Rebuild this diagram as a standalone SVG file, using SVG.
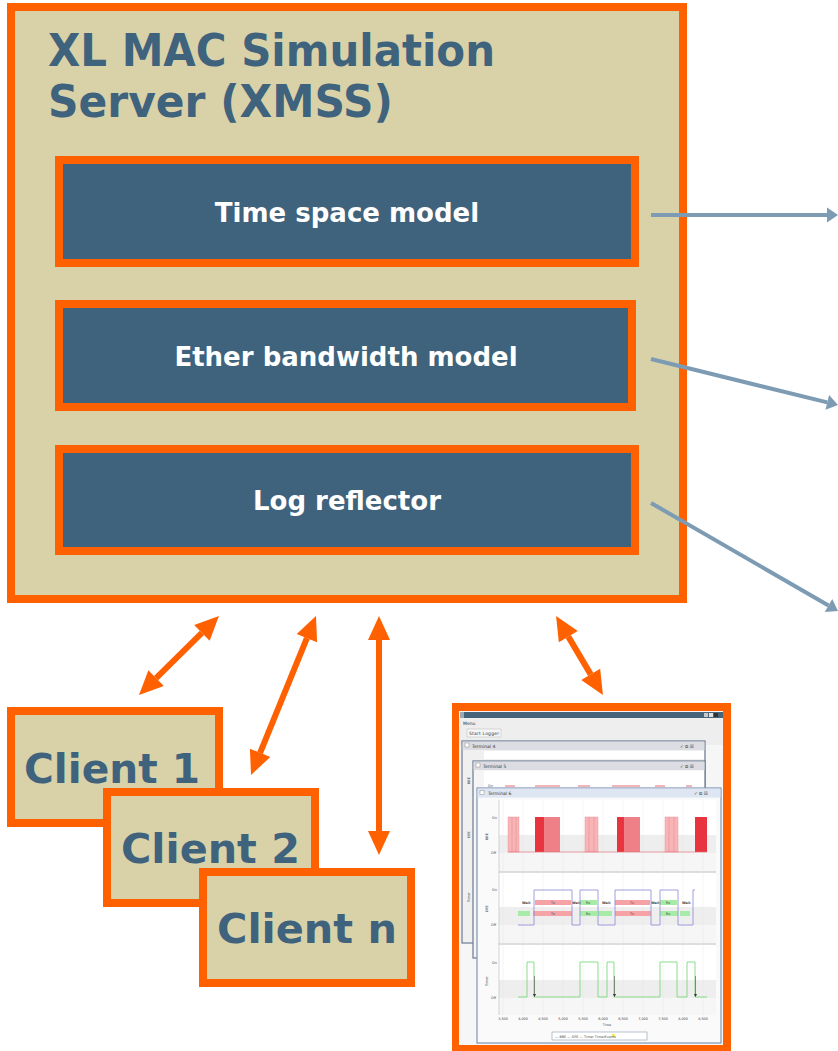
<svg xmlns="http://www.w3.org/2000/svg" width="838" height="1051" viewBox="0 0 838 1051">
<defs>
<style>
.frame{fill:#D9D2A9;stroke:#FF6000;stroke-width:8}
.module{fill:#3F627D;stroke:#FF6000;stroke-width:8}
.title{font-family:"DejaVu Sans","Verdana",sans-serif;font-weight:bold;font-size:44px;fill:#3F627D}
.modtxt{font-family:"DejaVu Sans","Verdana",sans-serif;font-weight:bold;font-size:26px;fill:#FFFFFF;text-anchor:middle}
.client{font-family:"DejaVu Sans","Verdana",sans-serif;font-weight:bold;font-size:41px;fill:#3F627D}
.oarrow{stroke:#FF6000;stroke-width:6;fill:none;marker-start:url(#oh);marker-end:url(#oh)}
.barrow{stroke:#7D9BB3;stroke-width:4;fill:none;marker-end:url(#bh)}
.tiny{font-family:"DejaVu Sans",sans-serif;font-size:4.5px;fill:#333}
.micro{font-family:"DejaVu Sans",sans-serif;font-size:3.4px;fill:#444}
.win{stroke:#6B7B90;stroke-width:1.2}
.lt{fill:#F7B5B8;stroke:#EE8A90;stroke-width:0.4}
.dk{fill:#E8343F}
.md{fill:#F08088}
.g{fill:#A6EBA6}
.p{fill:#F5A3A7}
</style>
<marker id="oh" markerUnits="userSpaceOnUse" orient="auto-start-reverse" refX="0" refY="0" overflow="visible">
<path d="M0,-11 L24,0 L0,11 z" fill="#FF6000"/>
</marker>
<marker id="bh" markerUnits="userSpaceOnUse" orient="auto" refX="0" refY="0" overflow="visible">
<path d="M0,-7.5 L11,0 L0,7.5 z" fill="#7D9BB3"/>
</marker>
</defs>
<rect width="838" height="1051" fill="#FFFFFF"/>

<g id="xmss">
<rect class="frame" x="11" y="7" width="672" height="592"/>
<text class="title" x="48" y="66" textLength="447" lengthAdjust="spacingAndGlyphs">XL MAC Simulation</text>
<text class="title" x="48" y="117" textLength="345" lengthAdjust="spacingAndGlyphs">Server (XMSS)</text>
</g>

<g id="time-space-model">
<rect class="module" x="59" y="160" width="576" height="103"/>
<text class="modtxt" x="347" y="222">Time space model</text>
</g>
<g id="ether-bandwidth-model">
<rect class="module" x="59" y="304" width="573" height="103"/>
<text class="modtxt" x="346" y="366">Ether bandwidth model</text>
</g>
<g id="log-reflector">
<rect class="module" x="59" y="449" width="576" height="102"/>
<text class="modtxt" x="347" y="510">Log reflector</text>
</g>

<g id="client-1">
<rect class="frame" x="11" y="711" width="208" height="112"/>
<text class="client" x="24" y="783" textLength="176" lengthAdjust="spacingAndGlyphs">Client 1</text>
</g>
<g id="client-2">
<rect class="frame" x="107" y="792" width="208" height="111"/>
<text class="client" x="121" y="863" textLength="179" lengthAdjust="spacingAndGlyphs">Client 2</text>
</g>
<g id="client-n">
<rect class="frame" x="203" y="872" width="208" height="111"/>
<text class="client" x="217" y="943" textLength="180" lengthAdjust="spacingAndGlyphs">Client n</text>
</g>

<g id="logger-screenshot">
<rect x="456" y="707" width="271" height="340" fill="#FFFFFF" stroke="#FF6000" stroke-width="8"/>
<rect x="459" y="711" width="264" height="334" fill="#F6F6F6"/>
<rect x="460" y="712" width="263" height="6" fill="#466479"/>
<rect x="460" y="712" width="4" height="6" fill="#9AAAB6"/>
<rect x="704" y="713" width="4" height="4" fill="#C8C8C8"/>
<rect x="709" y="713" width="4" height="4" fill="#E0E0E0"/>
<rect x="714" y="713" width="4" height="4" fill="#333"/>
<rect x="459" y="718" width="264" height="27" fill="#EEEEEE"/>
<text class="tiny" x="463" y="725">Menu</text>
<rect x="467" y="729" width="34" height="8" fill="#F6F6F6" stroke="#BBBBBB" stroke-width="0.5"/>
<text class="tiny" x="469" y="735" textLength="30">Start Logger</text>

<rect class="win" x="462" y="741" width="243" height="202" fill="#F0F0F0"/>
<rect x="462.6" y="741.6" width="241.8" height="8.4" fill="#DCDDE2"/>
<rect x="465" y="743" width="4" height="4" fill="#FFF" stroke="#777" stroke-width="0.4"/>
<text class="tiny" x="472" y="748">Terminal 4</text>
<text class="tiny" x="680" y="748">✓ ⧉ ☒</text>
<rect x="484" y="751" width="220" height="8" fill="#FFFFFF"/>
<text class="micro" transform="translate(470,784) rotate(-90)">BBE</text>
<text class="micro" transform="translate(470,838) rotate(-90)">DFE</text>
<text class="micro" transform="translate(470,902) rotate(-90)">Timer</text>

<rect class="win" x="473" y="761" width="232" height="197" fill="#F5F5F5"/>
<rect x="473.6" y="761.6" width="230.8" height="8.4" fill="#DCDDE2"/>
<rect x="476" y="763" width="4" height="4" fill="#FFF" stroke="#777" stroke-width="0.4"/>
<text class="tiny" x="483" y="768">Terminal 5</text>
<text class="tiny" x="680" y="768">✓ ⧉ ☒</text>
<rect x="484" y="771" width="220" height="17" fill="#FFFFFF"/>
<text class="micro" x="488" y="787">On</text>
<path d="M505,786 H515 M535,786 H560 M578,786 H590 M612,786 H640 M655,786 H665 M686,786 H692" stroke="#E36B74" stroke-width="1.2" fill="none"/>

<rect x="477" y="788" width="244" height="255" fill="#FAFAFA" stroke="#8096B5" stroke-width="1.2"/>
<rect x="477.6" y="788.6" width="242.8" height="9" fill="#DDE6F2"/>
<rect x="480" y="790.5" width="4" height="4" fill="#FFF" stroke="#777" stroke-width="0.4"/>
<text class="tiny" x="488" y="795">Terminal 6</text>
<text class="tiny" x="694" y="795">✓ ⧉ ☒</text>

<rect x="499" y="800" width="217" height="215" fill="#FFFFFF"/>
<rect x="499" y="835" width="217" height="18" fill="#EEEEEE"/>
<rect x="499" y="853" width="217" height="19" fill="#F6F6F6"/>
<rect x="499" y="907" width="217" height="18" fill="#EEEEEE"/>
<rect x="499" y="925" width="217" height="18" fill="#F6F6F6"/>
<rect x="499" y="980" width="217" height="18" fill="#EEEEEE"/>
<rect x="499" y="998" width="217" height="17" fill="#F6F6F6"/>
<path d="M499,872 H716 M499,944 H716" stroke="#D4D4D4" stroke-width="1.5"/>
<path d="M503,800 V1015 M523,800 V1015 M543,800 V1015 M563,800 V1015 M583,800 V1015 M603,800 V1015 M623,800 V1015 M643,800 V1015 M663,800 V1015 M683,800 V1015 M703,800 V1015" stroke="#E4E4E4" stroke-width="0.4"/>
<path d="M499,800 V1015" stroke="#BBBBBB" stroke-width="0.6"/>

<text class="micro" x="492" y="819">On</text>
<text class="micro" x="491" y="854">Off</text>
<text class="micro" transform="translate(488,840) rotate(-90)">BBE</text>
<text class="micro" x="492" y="891">On</text>
<text class="micro" x="491" y="926">Off</text>
<text class="micro" transform="translate(488,912) rotate(-90)">DFE</text>
<text class="micro" x="492" y="964">On</text>
<text class="micro" x="491" y="999">Off</text>
<text class="micro" transform="translate(488,986) rotate(-90)">Timer</text>

<rect class="lt" x="508" y="817" width="11" height="35"/>
<rect class="dk" x="535" y="817" width="9" height="35"/>
<rect class="md" x="544" y="817" width="16" height="35"/>
<rect class="lt" x="585" y="817" width="13" height="35"/>
<rect class="dk" x="617" y="817" width="7" height="35"/>
<rect class="md" x="624" y="817" width="16" height="35"/>
<rect class="lt" x="665" y="817" width="13" height="35"/>
<rect class="dk" x="695" y="817" width="12" height="35"/>
<path d="M512,817 V852 M516,817 V852 M589,817 V852 M594,817 V852 M669,817 V852 M674,817 V852 M548,817 V852 M628,817 V852" stroke="#E5737B" stroke-width="0.4"/>
<path d="M508,852 H707" stroke="#E36B74" stroke-width="0.6"/>

<rect class="p" x="535" y="900" width="36" height="5"/>
<rect class="g" x="580" y="900" width="17" height="5"/>
<rect class="p" x="615" y="900" width="35" height="5"/>
<rect class="g" x="660" y="900" width="17" height="5"/>
<rect class="g" x="518" y="911" width="12" height="5"/>
<rect class="p" x="533" y="911" width="39" height="5"/>
<rect class="g" x="580" y="911" width="17" height="5"/>
<rect class="g" x="598" y="911" width="14" height="5"/>
<rect class="p" x="615" y="911" width="36" height="5"/>
<rect class="g" x="660" y="911" width="18" height="5"/>
<rect class="g" x="680" y="911" width="10" height="5"/>
<text class="micro" x="522" y="904" font-weight="bold">Wait</text>
<text class="micro" x="551" y="904">Tx</text>
<text class="micro" x="572" y="904" font-weight="bold">Wait</text>
<text class="micro" x="586" y="904">Rx</text>
<text class="micro" x="602" y="904" font-weight="bold">Wait</text>
<text class="micro" x="630" y="904">Tx</text>
<text class="micro" x="651" y="904" font-weight="bold">Wait</text>
<text class="micro" x="666" y="904">Rx</text>
<text class="micro" x="682" y="904" font-weight="bold">Wait</text>
<text class="micro" x="551" y="915">Tx</text>
<text class="micro" x="586" y="915">Rx</text>
<text class="micro" x="630" y="915">Tx</text>
<text class="micro" x="666" y="915">Rx</text>
<polyline points="518,925 534,925 534,890 572,890 572,925 580,925 580,890 598,890 598,925 615,925 615,890 651,890 651,925 660,925 660,890 678,890 678,925 693,925 693,890 695,890" fill="none" stroke="#8C86D6" stroke-width="0.8"/>

<polyline points="518,997 527,997 527,962 534,962 534,997 580,997 580,962 598,962 598,997 607,997 607,962 614,962 614,997 660,997 660,962 677,962 677,997 687,997 687,962 695,962 695,997 707,997" fill="none" stroke="#6CD46C" stroke-width="0.8"/>
<path d="M534.5,976 V995 M614.5,976 V995 M695.5,976 V995" stroke="#333" stroke-width="0.5"/>
<path d="M533,994 L534.5,997 L536,994 z M613,994 L614.5,997 L616,994 z M694,994 L695.5,997 L697,994 z" fill="#333"/>

<g class="micro" text-anchor="middle">
<text x="503" y="1020">3,500</text><text x="523" y="1020">4,000</text><text x="543" y="1020">4,500</text>
<text x="563" y="1020">5,000</text><text x="583" y="1020">5,500</text><text x="603" y="1020">6,000</text>
<text x="623" y="1020">6,500</text><text x="643" y="1020">7,000</text><text x="663" y="1020">7,500</text>
<text x="683" y="1020">8,000</text><text x="703" y="1020">8,500</text>
<text x="607" y="1026">Time</text>
</g>
<rect x="552" y="1032" width="95" height="8" fill="#FFFFFF" stroke="#8A9AB0" stroke-width="0.6"/>
<rect x="612" y="1034" width="3" height="3" fill="#F2E86A"/>
<text class="micro" x="555" y="1037.5">— BBE — DFE — Timer    TimerEvents</text>
</g>

<g id="connectors">
<path class="oarrow" d="M201.9,632.9 L156.1,678.1"/>
<path class="oarrow" d="M306.9,638.2 L260.1,752.8"/>
<path class="oarrow" d="M379,640 L379,831"/>
<path class="oarrow" d="M568.3,636.6 L590.7,674.4"/>
<path class="barrow" d="M651,215 L827,215"/>
<path class="barrow" d="M651,359 L827.3,402.4"/>
<path class="barrow" d="M651,503 L828.5,605.5"/>
</g>
</svg>
